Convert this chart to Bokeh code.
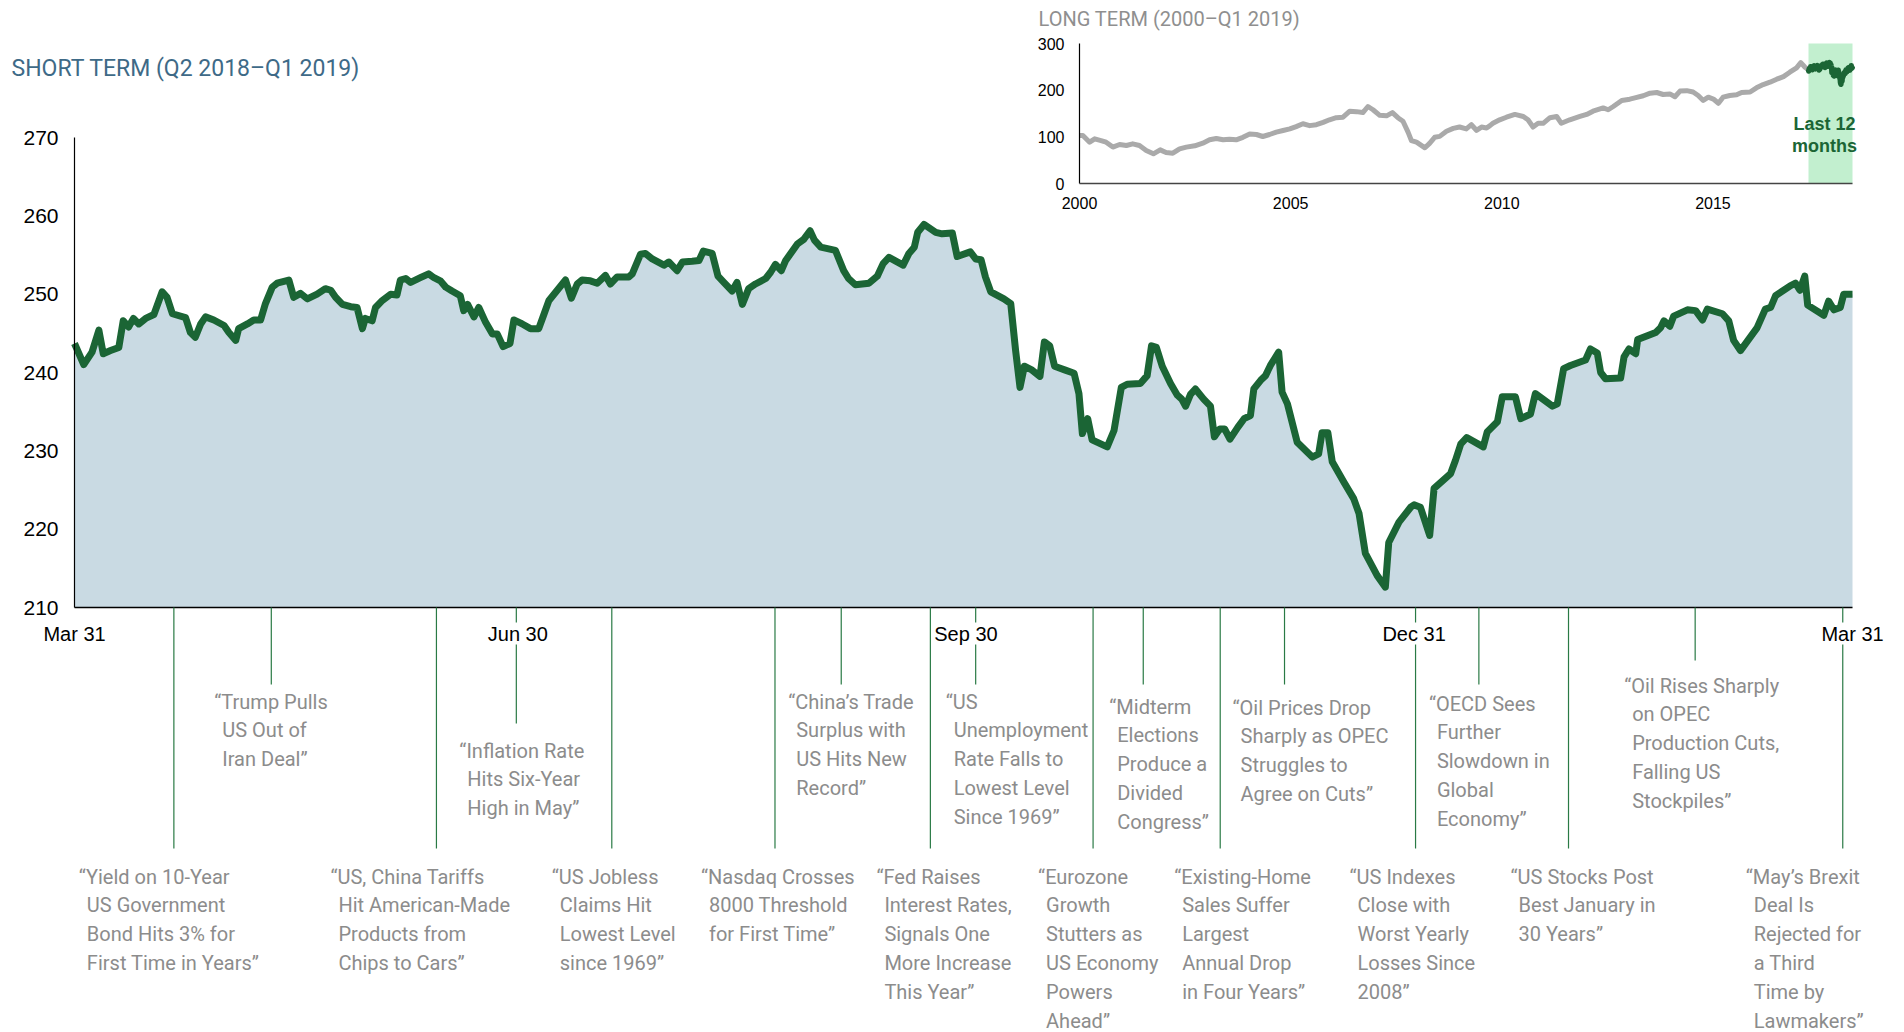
from bokeh.plotting import figure
from bokeh.models import Range1d, ColumnDataSource, Label
from bokeh.core.properties import value
from bokeh.embed import file_html
from bokeh.resources import INLINE

# ---------------- data ----------------
# short term: days after Mar 31 2018, index level
days = [0, 1.9, 3.6, 5.0, 5.9, 7.4, 9.1, 10.0, 11.1, 12.1, 13.2, 14.6, 16.3, 18.0, 19.0, 20.1,
        22.8, 23.8, 24.8, 25.9, 26.9, 28.6, 30.7, 31.7, 33.1, 33.7, 35.5, 36.8, 38.2, 39.2, 40.6,
        41.6, 44.0, 45.0, 46.4, 47.8, 49.8, 51.5, 52.6, 53.6, 55.0, 56.7, 58.0, 59.1, 59.7, 61.1,
        61.8, 63.2, 64.9, 66.2, 66.9, 68.0, 69.0, 71.0, 72.7, 73.8, 75.1, 76.2, 77.5, 79.2, 79.9,
        80.7, 82.0, 83.0, 84.4, 85.8, 86.8, 88.0, 89.4, 90.2, 91.6, 92.2, 93.6, 95.3, 96.3, 97.4,
        99.1, 100.8, 102.0, 103.2, 104.2, 105.9, 107.3, 109.0, 110.0, 111.4, 113.8, 114.5, 116.2,
        117.2, 118.6, 121.0, 122.0, 123.7, 124.8, 126.8, 128.2, 129.1, 130.9, 132.1, 133.3, 135.0,
        136.0, 137.1, 138.4, 139.8, 141.9, 142.9, 143.9, 145.1, 146.0, 148.4, 149.7, 151.0, 151.9,
        153.2, 156.2, 157.9, 158.9, 160.3, 163.1, 164.8, 166.0, 167.2, 170.1, 171.3, 172.4, 173.1,
        174.4, 176.8, 178.1, 180.2, 181.2, 183.9, 185.0, 186.1, 187.0, 188.1, 190.8, 192.2, 193.2,
        194.1, 195.0, 196.6, 198.2, 199.1, 200.2, 201.2, 203.4, 205.2, 206.2, 206.9, 208.0, 208.9,
        212.0, 213.4, 214.9, 216.1, 218.8, 220.2, 221.1, 222.1, 223.3, 225.0, 226.4, 227.3, 228.1,
        229.1, 230.1, 231.8, 233.2, 234.0, 235.1, 236.1, 237.2, 238.8, 240.1, 241.4, 242.1, 243.5,
        244.5, 245.5, 247.2, 247.9, 249.0, 251.0, 254.1, 255.4, 256.1, 257.3, 258.2, 260.6, 262.6,
        263.7, 265.0, 267.4, 269.1, 269.8, 271.9, 274.3, 275.0, 276.3, 278.2, 279.1, 282.5, 283.5,
        284.6, 285.8, 289.2, 290.0, 292.1, 293.1, 295.8, 296.9, 298.9, 299.9, 303.4, 304.4, 305.7,
        307.1, 310.2, 311.2, 312.6, 313.3, 314.3, 317.4, 318.1, 319.1, 320.5, 320.9, 324.6, 325.6,
        326.3, 327.5, 328.3, 331.1, 332.8, 334.2, 335.2, 338.3, 339.6, 340.6, 342.0, 345.4, 347.1,
        348.2, 349.2, 352.3, 353.3, 354.2, 355.2, 355.8, 359.1, 360.1, 361.2, 362.5, 363.2, 365.0]
values = [243.7, 241.0, 242.6, 245.4, 242.4, 242.8, 243.2, 246.6, 245.8, 246.9, 246.2, 246.9, 247.4,
          250.3, 249.6, 247.5, 247.0, 245.1, 244.5, 246.2, 247.1, 246.7, 246.0, 245.1, 244.1, 245.6,
          246.2, 246.7, 246.7, 248.8, 250.9, 251.4, 251.8, 249.6, 250.1, 249.4, 250.0, 250.7, 250.5,
          249.6, 248.7, 248.4, 248.3, 245.6, 246.9, 246.6, 248.3, 249.2, 250.0, 249.9, 251.8, 252.0,
          251.5, 252.1, 252.6, 252.1, 251.7, 250.9, 250.4, 249.8, 247.9, 248.7, 247.1, 248.3, 246.4,
          244.9, 244.9, 243.3, 243.7, 246.7, 246.3, 246.1, 245.6, 245.6, 247.3, 249.2, 250.5, 251.8,
          249.5, 251.3, 251.8, 251.7, 251.4, 252.4, 251.3, 252.2, 252.2, 252.6, 255.1, 255.2, 254.5,
          253.7, 254.1, 253.0, 254.1, 254.2, 254.3, 255.5, 255.2, 252.3, 251.5, 250.4, 251.5, 248.7,
          250.7, 251.3, 252.0, 252.8, 253.8, 253.0, 254.3, 256.4, 257.0, 258.1, 256.9, 256.0, 255.6,
          253.0, 252.0, 251.2, 251.4, 252.3, 253.9, 254.7, 253.7, 255.2, 256.0, 257.9, 258.9, 257.9,
          257.7, 257.8, 254.8, 255.4, 254.5, 254.4, 252.2, 250.3, 249.4, 248.8, 242.8, 238.1, 240.8,
          240.3, 239.5, 243.9, 243.4, 240.8, 240.3, 239.9, 237.3, 232.2, 234.1, 231.4, 230.5, 232.6,
          238.1, 238.5, 238.6, 239.6, 243.4, 243.2, 240.8, 238.6, 237.1, 236.6, 235.7, 237.2, 237.9,
          236.6, 235.7, 231.8, 232.8, 232.8, 231.5, 233.0, 234.1, 234.5, 237.9, 239.0, 239.6, 240.9,
          242.6, 237.5, 236.0, 231.1, 229.2, 229.6, 232.3, 232.3, 228.6, 226.0, 223.9, 222.0, 216.9,
          214.1, 212.6, 218.3, 220.9, 222.8, 223.1, 222.8, 219.2, 225.2, 227.1, 228.8, 230.9, 231.7,
          230.5, 232.4, 233.7, 236.9, 236.9, 234.1, 234.7, 237.3, 235.7, 236.0, 240.5, 240.9, 241.6,
          243.0, 242.5, 240.0, 239.2, 239.3, 242.0, 243.0, 242.4, 244.2, 245.1, 245.7, 246.6, 245.9,
          247.2, 248.0, 247.9, 246.7, 248.1, 247.5, 246.6, 244.1, 242.8, 245.7, 248.1, 248.3, 249.8,
          251.1, 251.4, 250.5, 252.3, 248.6, 247.3, 249.1, 248.0, 248.3, 250.0, 250.0]
assert len(days) == len(values)

x_tick_days = [0, 91, 183, 275, 365]
x_tick_labels = ["Mar 31", "Jun 30", "Sep 30", "Dec 31", "Mar 31"]
y_ticks = [210, 220, 230, 240, 250, 260, 270]

# long term index (2000 = 100)
long_years = [2000.0, 2000.08, 2000.24, 2000.36, 2000.51, 2000.63, 2000.79, 2000.95, 2001.11, 2001.26,
              2001.42, 2001.58, 2001.75, 2001.91, 2002.05, 2002.21, 2002.37, 2002.53, 2002.73, 2002.92,
              2003.08, 2003.24, 2003.40, 2003.55, 2003.71, 2003.87, 2004.03, 2004.19, 2004.34, 2004.50,
              2004.66, 2004.82, 2004.98, 2005.13, 2005.29, 2005.45, 2005.61, 2005.77, 2005.92, 2006.08,
              2006.24, 2006.40, 2006.56, 2006.71, 2006.83, 2006.95, 2007.11, 2007.27, 2007.41, 2007.54,
              2007.66, 2007.78, 2007.86, 2007.98, 2008.18, 2008.29, 2008.41, 2008.53, 2008.69, 2008.85,
              2009.00, 2009.16, 2009.28, 2009.40, 2009.52, 2009.64, 2009.72, 2009.79, 2009.95, 2010.11,
              2010.31, 2010.51, 2010.62, 2010.74, 2010.86, 2010.98, 2011.14, 2011.30, 2011.41, 2011.61,
              2011.85, 2012.01, 2012.16, 2012.40, 2012.52, 2012.64, 2012.84, 2013.03, 2013.15, 2013.35,
              2013.51, 2013.67, 2013.82, 2013.98, 2014.10, 2014.22, 2014.38, 2014.53, 2014.65, 2014.77,
              2014.89, 2015.01, 2015.13, 2015.24, 2015.40, 2015.56, 2015.68, 2015.88, 2016.03, 2016.19,
              2016.35, 2016.51, 2016.67, 2016.82, 2016.98, 2017.08, 2017.18]
long_values = [103, 103, 88.5, 95.7, 92, 88.5, 78, 83.6, 81.4, 85,
               81.4, 70.7, 63.6, 72.1, 66.4, 65, 74.3, 77.9, 80.7, 86.4,
               93.6, 96.4, 93.6, 95, 93.6, 99, 106, 105, 100.7, 105,
               110, 113.6, 117, 122, 128, 124, 126, 131, 136.5, 141,
               142, 155, 154, 152, 165, 158, 146, 145, 152, 141,
               133.5, 110, 92, 88.5, 76.5, 86, 99, 101, 112, 118,
               121, 117, 126, 114, 121, 119, 124, 129, 136.5, 142,
               148, 143.6, 136.5, 121, 129, 129, 141, 143.6, 129, 136.5,
               143.6, 148, 155, 162, 158, 165, 178, 180.7, 183.6, 188,
               193.6, 195, 190.7, 192, 186, 198, 199, 196, 188.6, 178,
               185, 181, 172, 185, 188.6, 190, 195, 196, 205, 212,
               217, 223.5, 229, 238.5, 247.9, 259, 249]
assert len(long_years) == len(long_values)
long_x_ticks = [2000, 2005, 2010, 2015]
long_y_ticks = [0, 100, 200, 300]

# headlines, by day after Mar 31 2018
event_days = [20.4, 40.4, 74.3, 90.7, 110.3, 143.8, 157.4, 175.7, 185.0,
              209.1, 219.4, 235.2, 248.4, 275.3, 288.3, 306.7, 332.7, 363.0]
event_headlines = [
    "\u201cYield on 10-Year\nUS Government\nBond Hits 3% for\nFirst Time in Years\u201d",
    "\u201cTrump Pulls\nUS Out of\nIran Deal\u201d",
    "\u201cUS, China Tariffs\nHit American-Made\nProducts from\nChips to Cars\u201d",
    "\u201cInflation Rate\nHits Six-Year\nHigh in May\u201d",
    "\u201cUS Jobless\nClaims Hit\nLowest Level\nsince 1969\u201d",
    "\u201cNasdaq Crosses\n8000 Threshold\nfor First Time\u201d",
    "\u201cChina\u2019s Trade\nSurplus with\nUS Hits New\nRecord\u201d",
    "\u201cFed Raises\nInterest Rates,\nSignals One\nMore Increase\nThis Year\u201d",
    "\u201cUS\nUnemployment\nRate Falls to\nLowest Level\nSince 1969\u201d",
    "\u201cEurozone\nGrowth\nStutters as\nUS Economy\nPowers\nAhead\u201d",
    "\u201cMidterm\nElections\nProduce a\nDivided\nCongress\u201d",
    "\u201cExisting-Home\nSales Suffer\nLargest\nAnnual Drop\nin Four Years\u201d",
    "\u201cOil Prices Drop\nSharply as OPEC\nStruggles to\nAgree on Cuts\u201d",
    "\u201cUS Indexes\nClose with\nWorst Yearly\nLosses Since\n2008\u201d",
    "\u201cOECD Sees\nFurther\nSlowdown in\nGlobal\nEconomy\u201d",
    "\u201cUS Stocks Post\nBest January in\n30 Years\u201d",
    "\u201cOil Rises Sharply\non OPEC\nProduction Cuts,\nFalling US\nStockpiles\u201d",
    "\u201cMay\u2019s Brexit\nDeal Is\nRejected for\na Third\nTime by\nLawmakers\u201d",
]

# ---------------- layout (pixels) ----------------
W, H = 1904, 1032
MAIN_LEFT_PX, MAIN_RIGHT_PX = 74, 1852
Y_TOP_PX, Y_BASE_PX = 137, 607
LOW_TOP_PX = 876
event_line_end_px = [848, 684, 848, 723, 848, 848, 684, 848, 684,
                     848, 684, 848, 684, 848, 684, 848, 660, 848]
event_text_top_px = [LOW_TOP_PX, 701, LOW_TOP_PX, 750, LOW_TOP_PX, LOW_TOP_PX, 701, LOW_TOP_PX, 701,
                     LOW_TOP_PX, 706, LOW_TOP_PX, 707, LOW_TOP_PX, 703, LOW_TOP_PX, 685, LOW_TOP_PX]
event_text_dx = [-95, -57, -106, -57, -60, -74, -53, -54, -30,
                 -55, -34, -46, -52, -66, -50, -58, -71, -97]
LINE_PX = 28.8
INDENT_PX = 8

IN_LEFT_PX, IN_RIGHT_PX = 1079, 1852
IN_BOTTOM_PX, IN_TOP_PX = 183, 43
PX_PER_YEAR = 42.23

GREEN = "#1b6535"
FILL = "#c9dae3"
GRAY_LINE = "#aaaaaa"
BAND = "#c2efcf"
NOTE = "#8c8c8c"
NARROW = "Roboto"
SANS = "Liberation Sans"

Y_BASE, Y_TOP = y_ticks[0], y_ticks[-1]
PX_PER_DAY = (MAIN_RIGHT_PX - MAIN_LEFT_PX) / (x_tick_days[-1] - x_tick_days[0])
PX_PER_UNIT = (Y_BASE_PX - Y_TOP_PX) / (Y_TOP - Y_BASE)
PX_PER_V = (IN_BOTTOM_PX - IN_TOP_PX) / (long_y_ticks[-1] - long_y_ticks[0])


def mx(px):
    return x_tick_days[0] + (px - MAIN_LEFT_PX) / PX_PER_DAY


def my(py):
    return Y_BASE - (py - Y_BASE_PX) / PX_PER_UNIT


def ix(px):
    return long_x_ticks[0] + (px - IN_LEFT_PX) / PX_PER_YEAR


def iy(py):
    return long_y_ticks[0] + (IN_BOTTOM_PX - py) / PX_PER_V


p = figure(width=W, height=H,
           x_range=Range1d(mx(0), mx(W)), y_range=Range1d(my(H), my(0)),
           x_axis_location=None, y_axis_location=None,
           output_backend="svg", toolbar_location=None,
           min_border_left=0, min_border_right=0,
           min_border_top=0, min_border_bottom=0)
p.extra_x_ranges = {"ix": Range1d(ix(0), ix(W))}
p.extra_y_ranges = {"iy": Range1d(iy(H), iy(0))}
p.grid.grid_line_color = None
p.outline_line_color = None
p.background_fill_color = "white"
p.border_fill_color = "white"

# ---- main chart ----
p.varea(x=days, y1=Y_BASE, y2=values, fill_color=FILL)
p.line(days, values, line_color=GREEN, line_width=7, line_join="round")

# axes lines and y tick labels
p.segment(x0=[x_tick_days[0]], y0=[Y_BASE], x1=[x_tick_days[0]], y1=[Y_TOP],
          line_color="black", line_width=1.2)
p.segment(x0=[x_tick_days[0]], y0=[Y_BASE], x1=[x_tick_days[-1]], y1=[Y_BASE],
          line_color="black", line_width=1.6)
p.text(x=[x_tick_days[0]] * len(y_ticks), y=y_ticks, text=[str(v) for v in y_ticks],
       x_offset=-16, text_align="right", text_baseline="middle", text_font=value(SANS),
       text_font_size="21px", text_color="black")

# connectors
p.segment(x0=event_days, y0=[Y_BASE] * len(event_days), x1=event_days,
          y1=[my(v) for v in event_line_end_px], line_color="#2a7a45", line_width=1.2)

# headline texts
tx, ty, tt, toff = [], [], [], []
for d, head, top, dx in zip(event_days, event_headlines, event_text_top_px, event_text_dx):
    for i, line in enumerate(head.split("\n")):
        tx.append(d)
        ty.append(my(top + i * LINE_PX))
        tt.append(line)
        toff.append(dx + (INDENT_PX if i else 0))
src = ColumnDataSource(dict(x=tx, y=ty, text=tt, xo=toff))
p.text(x="x", y="y", text="text", x_offset="xo", source=src,
       text_font=value(NARROW), text_font_size="20px", text_color=NOTE,
       text_align="left", text_baseline="middle")

# date labels (white background hides connectors)
for d, lab in zip(x_tick_days, x_tick_labels):
    p.add_layout(Label(x=d, y=my(633), text=lab, text_align="center", text_baseline="middle",
                       text_font=SANS, text_font_size="20px", text_color="black",
                       background_fill_color="white"))

# title
p.text(x=[mx(11)], y=[my(68)], text=["SHORT TERM (Q2 2018\u2013Q1 2019)"],
       text_align="left", text_baseline="middle", text_font=value(NARROW),
       text_font_size="23px", text_color="#3e6a87")

# ---- inset long-term chart ----
BAND_START = ix(1808)
BAND_END = ix(IN_RIGHT_PX)
p.quad(left=[BAND_START], right=[BAND_END], bottom=[long_y_ticks[0]], top=[long_y_ticks[-1]],
       fill_color=BAND, line_color=None, x_range_name="ix", y_range_name="iy")
p.line(long_years + [BAND_START], long_values + [values[0]], line_color=GRAY_LINE, line_width=5,
       line_join="round", x_range_name="ix", y_range_name="iy")
span_days = x_tick_days[-1] - x_tick_days[0]
green_x = [BAND_START + (d - x_tick_days[0]) / span_days * (BAND_END - BAND_START) for d in days]
p.line(green_x, values, line_color=GREEN, line_width=5.5, line_join="round",
       x_range_name="ix", y_range_name="iy")
p.segment(x0=[long_x_ticks[0]], y0=[long_y_ticks[0]], x1=[long_x_ticks[0]], y1=[long_y_ticks[-1]],
          line_color="black", line_width=1.2, x_range_name="ix", y_range_name="iy")
p.segment(x0=[long_x_ticks[0]], y0=[long_y_ticks[0]], x1=[BAND_END], y1=[long_y_ticks[0]],
          line_color="#444444", line_width=1.6, x_range_name="ix", y_range_name="iy")
p.text(x=[long_x_ticks[0]] * len(long_y_ticks), y=long_y_ticks, text=[str(v) for v in long_y_ticks],
       x_offset=-15, text_align="right", text_baseline="middle", text_font=value(SANS),
       text_font_size="16px", text_color="black", x_range_name="ix", y_range_name="iy")
p.text(x=long_x_ticks, y=[iy(202)] * len(long_x_ticks), text=[str(v) for v in long_x_ticks],
       text_align="center", text_baseline="middle", text_font=value(SANS),
       text_font_size="16px", text_color="black", x_range_name="ix", y_range_name="iy")
p.text(x=[(BAND_START + BAND_END) / 2] * 2, y=[iy(123), iy(145)], text=["Last 12", "months"],
       x_offset=-6, text_align="center", text_baseline="middle", text_font=value(SANS),
       text_font_style="bold", text_font_size="18px", text_color=GREEN,
       x_range_name="ix", y_range_name="iy")
p.text(x=[mx(1038)], y=[my(18)], text=["LONG TERM (2000\u2013Q1 2019)"], text_align="left",
       text_baseline="middle", text_font=value(NARROW), text_font_size="20px",
       text_color="#8f8f8f")

open("out.html", "w").write(file_html(p, INLINE))
